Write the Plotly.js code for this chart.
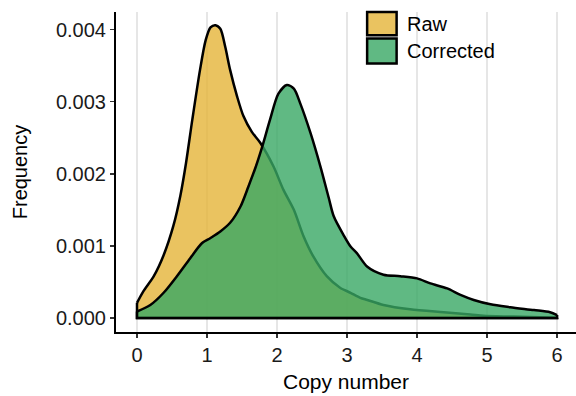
<!DOCTYPE html>
<html>
<head>
<meta charset="utf-8">
<script src="https://cdn.plot.ly/plotly-3.0.1.min.js"></script>
<style>
html,body{margin:0;padding:0;overflow:hidden;background:#fff;}
#chart{width:576px;height:396px;}
</style>
</head>
<body>
<div id="chart"></div>
<script>
// Density curves (x = copy number, y = frequency)
const rawX = [0, 0.09, 0.24, 0.38, 0.52, 0.62, 0.70, 0.79, 0.90, 0.98, 1.05, 1.12, 1.19, 1.26, 1.33, 1.43, 1.52, 1.64, 1.76, 1.95, 2.09, 2.24, 2.38, 2.52, 2.71, 2.90, 3.05, 3.19, 3.29, 3.52, 3.90, 4.38, 4.76, 4.95, 5.38, 6.0];
const rawY = [0.00021, 0.00037, 0.00058, 0.00087, 0.00128, 0.00170, 0.00215, 0.00275, 0.00344, 0.00385, 0.00403, 0.00406, 0.00401, 0.00376, 0.00344, 0.00307, 0.00280, 0.00258, 0.00243, 0.00210, 0.00178, 0.00150, 0.00113, 0.00085, 0.00058, 0.00042, 0.00035, 0.00028, 0.00025, 0.00018, 0.00012, 0.00008, 0.00005, 0.00003, 0.00002, 0.000004];

const corrX = [0, 0.19, 0.38, 0.57, 0.76, 0.93, 1.05, 1.19, 1.33, 1.48, 1.59, 1.69, 1.79, 1.90, 2.02, 2.14, 2.24, 2.33, 2.48, 2.62, 2.74, 2.81, 2.95, 3.05, 3.14, 3.29, 3.52, 3.76, 4.0, 4.19, 4.43, 4.62, 4.81, 5.05, 5.33, 5.67, 5.90, 6.0];
const corrY = [0.00009, 0.00018, 0.00035, 0.00058, 0.00083, 0.00104, 0.00111, 0.00120, 0.00132, 0.00155, 0.00182, 0.00208, 0.00238, 0.00275, 0.00311, 0.00323, 0.00318, 0.00298, 0.00256, 0.00210, 0.00166, 0.00141, 0.00115, 0.00099, 0.00090, 0.00071, 0.00060, 0.00058, 0.00055, 0.00048, 0.00041, 0.00032, 0.00025, 0.00019, 0.00015, 0.00011, 0.00008, 0.00004];

const seriesNames = ["Raw", "Corrected"];
const fillColors = ["rgba(229,180,56,0.8)", "rgba(56,168,100,0.8)"];
const xTicks = [0, 1, 2, 3, 4, 5, 6];
const yTicks = [0, 0.001, 0.002, 0.003, 0.004];
const yTickText = ["0.000", "0.001", "0.002", "0.003", "0.004"];

const FONT = "Liberation Sans, Arial, Helvetica, sans-serif";

function densityTraces(xs, ys, name, color) {
  const curve = {
    x: xs, y: ys, type: "scatter", mode: "lines", name: name,
    fill: "tozeroy", fillcolor: color,
    line: {color: "#000", width: 2.5, shape: "spline", smoothing: 0.8},
    showlegend: false, hoverinfo: "skip"
  };
  const n = xs.length - 1;
  const edges = {
    x: [xs[0], xs[0], xs[n], xs[n]],
    y: [ys[0], 0, 0, ys[n]],
    type: "scatter", mode: "lines",
    line: {color: "#000", width: 2.5},
    showlegend: false, hoverinfo: "skip"
  };
  return [curve, edges];
}

const data = [].concat(
  densityTraces(rawX, rawY, seriesNames[0], fillColors[0]),
  densityTraces(corrX, corrY, seriesNames[1], fillColors[1])
);

// plot area in pixels
const L = 115.7, T = 11.7, B = 63.7, W = 576, H = 396;
const pw = W - L, ph = H - T - B;
const px = v => (v - L) / pw;
const py = v => (H - B - v) / ph;

const shapes = [];
const annotations = [];
const legendBoxes = [[11.7, 35], [38.3, 63.3]];
const legendText = [23.5, 51];
for (let i = 0; i < seriesNames.length; i++) {
  shapes.push({
    type: "rect", xref: "paper", yref: "paper",
    x0: px(367), x1: px(396.5), y0: py(legendBoxes[i][1]), y1: py(legendBoxes[i][0]),
    fillcolor: fillColors[i], line: {color: "#000", width: 2.5}
  });
  annotations.push({
    xref: "paper", yref: "paper", x: px(405), y: py(legendText[i]),
    xanchor: "left", yanchor: "middle", showarrow: false,
    text: seriesNames[i], font: {family: FONT, size: 20, color: "#000"}
  });
}

const layout = {
  width: W, height: H,
  margin: {l: L, r: 0, t: T, b: B, pad: 0},
  paper_bgcolor: "#fff", plot_bgcolor: "#fff",
  font: {family: FONT, size: 20, color: "#1a1a1a"},
  showlegend: false,
  xaxis: {
    range: [-0.3, 6.27], tickvals: xTicks, ticktext: xTicks.map(String),
    showgrid: true, gridcolor: "#e6e6e6", gridwidth: 1.3,
    zeroline: false, showline: true, linecolor: "#000", linewidth: 2,
    ticks: "outside", ticklen: 4, tickwidth: 1.5, tickcolor: "#333",
    tickfont: {family: FONT, size: 20, color: "#1a1a1a"},
    title: {text: "Copy number", font: {family: FONT, size: 21, color: "#000"}, standoff: 9},
    automargin: false, fixedrange: true
  },
  yaxis: {
    range: [-0.000194, 0.004243], tickvals: yTicks, ticktext: yTickText,
    showgrid: false, zeroline: false, showline: true, linecolor: "#000", linewidth: 2,
    ticks: "outside", ticklen: 4, tickwidth: 1.5, tickcolor: "#333",
    tickfont: {family: FONT, size: 20, color: "#1a1a1a"},
    title: {text: "Frequency", font: {family: FONT, size: 20, color: "#000"}, standoff: 23},
    automargin: false, fixedrange: true
  },
  shapes: shapes,
  annotations: annotations
};

Plotly.newPlot("chart", data, layout, {staticPlot: true, displayModeBar: false});
</script>
</body>
</html>
